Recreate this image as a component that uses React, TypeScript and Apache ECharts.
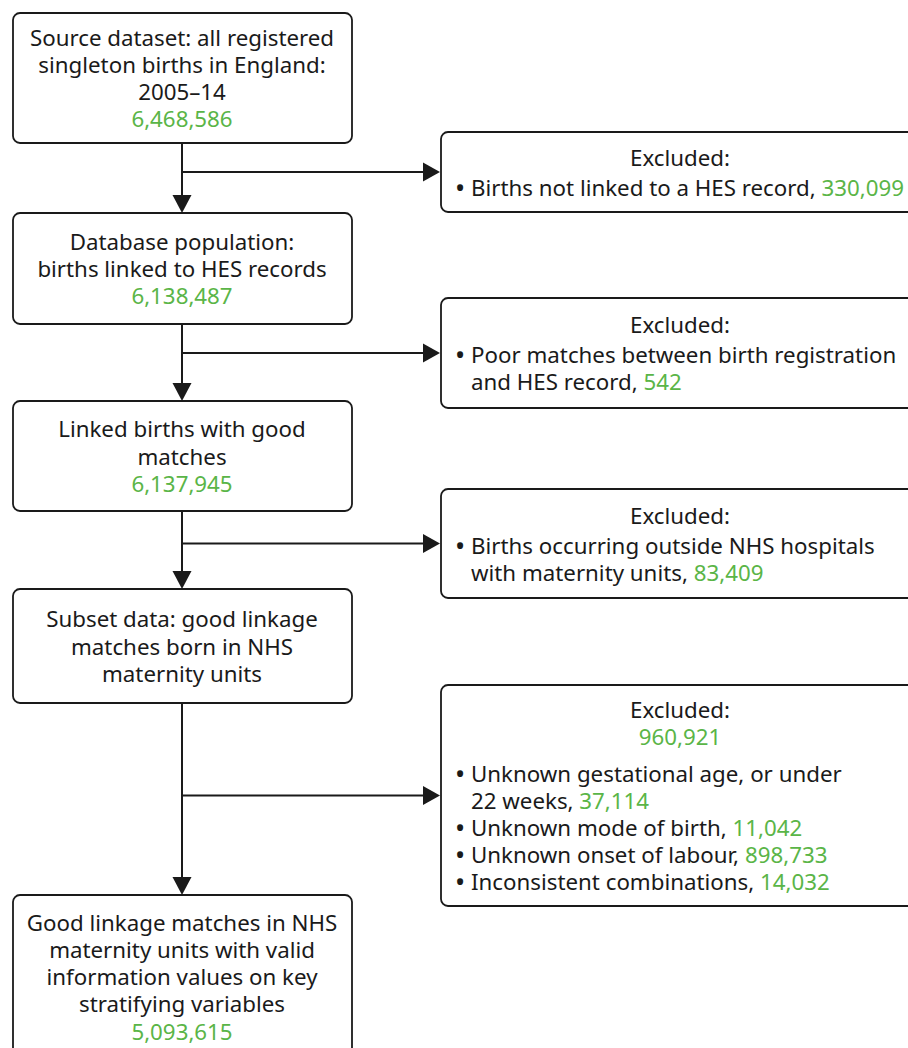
import React, { useEffect, useRef } from "react";
import * as echarts from "echarts";

const mainLabels: string[][] = [
  ["Source dataset: all registered", "singleton births in England:", "2005–14"],
  ["Database population:", "births linked to HES records"],
  ["Linked births with good", "matches"],
  ["Subset data: good linkage", "matches born in NHS", "maternity units"],
  ["Good linkage matches in NHS", "maternity units with valid", "information values on key", "stratifying variables"],
];
const mainCounts: string[] = ["6,468,586", "6,138,487", "6,137,945", "", "5,093,615"];

const exclusionHeader = "Excluded:";
const exclusionTotals: string[] = ["", "", "", "960,921"];
const exclusionItems: { lines: string[]; count: string }[][] = [
  [{ lines: ["Births not linked to a HES record, "], count: "330,099" }],
  [{ lines: ["Poor matches between birth registration", "and HES record, "], count: "542" }],
  [{ lines: ["Births occurring outside NHS hospitals", "with maternity units, "], count: "83,409" }],
  [
    { lines: ["Unknown gestational age, or under", "22 weeks, "], count: "37,114" },
    { lines: ["Unknown mode of birth, "], count: "11,042" },
    { lines: ["Unknown onset of labour, "], count: "898,733" },
    { lines: ["Inconsistent combinations, "], count: "14,032" },
  ],
];

// layout (positions only)
const MAIN_X0 = 13;
const MAIN_X1 = 352;
const MAIN_CX = 182;
const mainBoxes: [number, number][] = [
  [13, 143],
  [213, 324],
  [401, 511],
  [589, 703],
  [895, 1070],
];
const RIGHT_X0 = 441;
const RIGHT_X1 = 930;
const RIGHT_CX = 680;
const rightBoxes: [number, number][] = [
  [132, 212],
  [298, 408],
  [489, 598],
  [685, 906],
];

const FONT = "'Noto Sans', 'Open Sans', sans-serif";
const FS = 22.3;
const LH = 27.3;
const BLACK = "#1a1a1a";
const GREEN = "#5ab547";

export default function App() {
  const ref = useRef<HTMLDivElement>(null);
  useEffect(() => {
    document.body.style.margin = "0";
    const chart = echarts.init(ref.current!, null, { renderer: "svg" });
    const els: any[] = [];
    const base = { fontSize: FS, fontFamily: FONT, lineHeight: LH };
    const rich = {
      t: { ...base, fill: BLACK },
      g: { ...base, fill: GREEN },
      b: { ...base, fill: BLACK, width: 16, fontSize: 27 },
      s: { ...base, fill: BLACK, width: 16 },
    };
    const richText = (x: number, y: number, text: string, align: string) => ({
      type: "text",
      x,
      y,
      style: { text, rich, ...base, fill: BLACK, align, verticalAlign: "middle" },
    });

    // main boxes
    mainBoxes.forEach(([y0, y1], i) => {
      els.push({
        type: "rect",
        shape: { x: MAIN_X0, y: y0, width: MAIN_X1 - MAIN_X0, height: y1 - y0, r: 7 },
        style: { fill: "#fff", stroke: BLACK, lineWidth: 1.8 },
      });
      const parts = mainLabels[i].map((l) => `{t|${l}}`);
      if (mainCounts[i]) parts.push(`{g|${mainCounts[i]}}`);
      const n = parts.length;
      const cy = i === mainBoxes.length - 1 ? y0 + 27 + ((n - 1) * LH) / 2 : (y0 + y1) / 2;
      els.push(richText(MAIN_CX, cy, parts.join("\n"), "center"));
    });

    // right boxes
    rightBoxes.forEach(([y0, y1], i) => {
      els.push({
        type: "rect",
        shape: { x: RIGHT_X0, y: y0, width: RIGHT_X1 - RIGHT_X0, height: y1 - y0, r: 7 },
        style: { fill: "#fff", stroke: BLACK, lineWidth: 1.8 },
      });
      const head = [`{t|${exclusionHeader}}`];
      if (exclusionTotals[i]) head.push(`{g|${exclusionTotals[i]}}`);
      const bl: string[] = [];
      exclusionItems[i].forEach((it) => {
        it.lines.forEach((l, k) => {
          const pre = k === 0 ? "{b|•}" : "{s| }";
          const cnt = k === it.lines.length - 1 ? `{g|${it.count}}` : "";
          bl.push(`${pre}{t|${l}}${cnt}`);
        });
      });
      const gap = exclusionTotals[i] ? 37 : 30;
      const hFirst = 0;
      const hLast = (head.length - 1) * LH;
      const bFirst = hLast + gap;
      const bLast = bFirst + (bl.length - 1) * 27;
      const off = (y0 + y1) / 2 - (hFirst + bLast) / 2;
      els.push(richText(RIGHT_CX, off + (hFirst + hLast) / 2, head.join("\n"), "center"));
      els.push({
        type: "text",
        x: 455,
        y: off + (bFirst + bLast) / 2,
        style: {
          text: bl.join("\n"),
          rich: {
            t: { ...rich.t, lineHeight: 27 },
            g: { ...rich.g, lineHeight: 27 },
            b: { ...rich.b, lineHeight: 27 },
            s: { ...rich.s, lineHeight: 27 },
          },
          ...base,
          lineHeight: 27,
          fill: BLACK,
          align: "left",
          verticalAlign: "middle",
        },
      });
    });

    // connectors
    const down = (x: number, yTip: number) => ({
      type: "polygon",
      shape: { points: [[x - 9.5, yTip - 18], [x + 9.5, yTip - 18], [x, yTip]] },
      style: { fill: BLACK },
    });
    const right = (xTip: number, y: number) => ({
      type: "polygon",
      shape: { points: [[xTip - 17, y - 9.5], [xTip - 17, y + 9.5], [xTip, y]] },
      style: { fill: BLACK },
    });
    for (let i = 0; i < mainBoxes.length - 1; i++) {
      const yA = mainBoxes[i][1];
      const yB = mainBoxes[i + 1][0];
      const ry = (rightBoxes[i][0] + rightBoxes[i][1]) / 2;
      els.push({
        type: "line",
        shape: { x1: MAIN_CX, y1: yA, x2: MAIN_CX, y2: yB - 16 },
        style: { stroke: BLACK, lineWidth: 2 },
      });
      els.push(down(MAIN_CX, yB));
      els.push({
        type: "line",
        shape: { x1: MAIN_CX, y1: ry, x2: RIGHT_X0 - 16, y2: ry },
        style: { stroke: BLACK, lineWidth: 2 },
      });
      els.push(right(RIGHT_X0 - 1, ry));
    }

    chart.setOption({ animation: false, graphic: { elements: els } });
    return () => chart.dispose();
  }, []);
  return <div ref={ref} style={{ width: 908, height: 1048 }} />;
}
